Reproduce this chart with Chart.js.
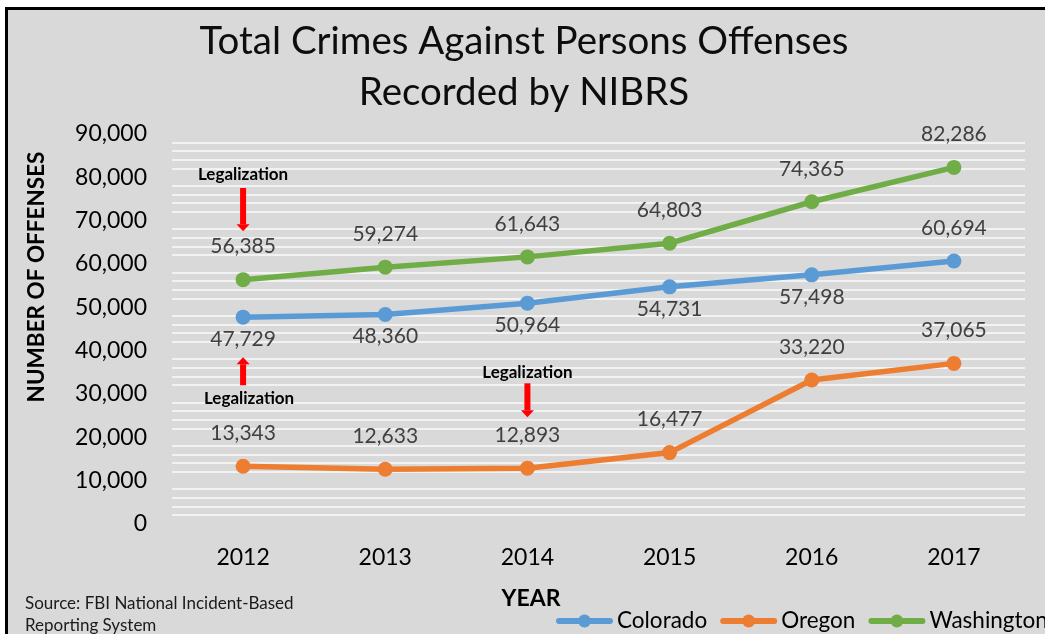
<!DOCTYPE html>
<html>
<head>
<meta charset="utf-8">
<script src="https://cdn.jsdelivr.net/npm/chart.js@4.4.1/dist/chart.umd.min.js"></script>
<style>
html,body{margin:0;padding:0;background:#fff;overflow:hidden;}
#wrap{width:1045px;height:634px;position:relative;}
</style>
</head>
<body>
<div id="wrap"><canvas id="c" width="1045" height="634"></canvas></div>
<script>
// ---- data ----
const years = ['2012','2013','2014','2015','2016','2017'];
const colorado = [47729, 48360, 50964, 54731, 57498, 60694];
const oregon = [13343, 12633, 12893, 16477, 33220, 37065];
const washington = [56385, 59274, 61643, 64803, 74365, 82286];
const seriesNames = ['Colorado', 'Oregon', 'Washington'];
const yTickValues = [0, 10000, 20000, 30000, 40000, 50000, 60000, 70000, 80000, 90000];
const titleLines = ['Total Crimes Against Persons Offenses', 'Recorded by NIBRS'];
const sourceLines = ['Source: FBI National Incident-Based', 'Reporting System'];
const annotationCats = ['2012', '2012', '2014'];
const annotationTextVals = [80660, 29010, 35010];
const annotationArrowFrom = [77540, 32010, 32470];
const annotationArrowTo = [67550, 38470, 24620];

const FONT = 'Lato, "Open Sans", sans-serif';
const colors = ['#5B9BD5', '#ED7D31', '#70AD47'];
const labelSide = [
  [1,1,1,1,1,-1],   // Colorado: below except last
  [-1,-1,-1,-1,-1,-1],
  [-1,-1,-1,-1,-1,-1]
];

const bgPlugin = {
  id: 'bg',
  beforeDraw(chart) {
    const ctx = chart.ctx;
    ctx.save();
    ctx.fillStyle = '#ffffff';
    ctx.fillRect(0, 0, chart.width, chart.height);
    ctx.fillStyle = '#D9D9D9';
    ctx.fillRect(8, 10, chart.width, chart.height);
    ctx.fillStyle = '#000';
    ctx.fillRect(5, 7, chart.width, 3);
    ctx.fillRect(5, 7, 3, chart.height);
    ctx.restore();
  }
};

const decoPlugin = {
  id: 'deco',
  afterDatasetsDraw(chart) {
    const ctx = chart.ctx;
    const xs = chart.scales.x, ys = chart.scales.y;
    ctx.save();
    // title
    ctx.fillStyle = '#0d0d0d';
    ctx.textAlign = 'center';
    ctx.textBaseline = 'middle';
    ctx.font = '38.5px ' + FONT;
    ctx.fillText(titleLines[0], 524, 42);
    ctx.fillText(titleLines[1], 524, 93);
    // axis titles
    ctx.font = 'bold 23px ' + FONT;
    ctx.fillStyle = '#000';
    ctx.fillText('YEAR', 531, 599);
    ctx.font = 'bold 22.5px ' + FONT;
    ctx.save();
    ctx.translate(37, 277);
    ctx.rotate(-Math.PI / 2);
    ctx.fillText('NUMBER OF OFFENSES', 0, 0);
    ctx.restore();
    // source
    ctx.textAlign = 'left';
    ctx.font = '17px ' + FONT;
    ctx.fillStyle = '#1a1a1a';
    ctx.fillText(sourceLines[0], 25, 604);
    ctx.fillText(sourceLines[1], 25, 626);
    // data labels
    ctx.textAlign = 'center';
    ctx.font = '21px ' + FONT;
    ctx.fillStyle = '#404040';
    chart.data.datasets.forEach((ds, di) => {
      const meta = chart.getDatasetMeta(di);
      meta.data.forEach((pt, i) => {
        const side = labelSide[di][i];
        const dy = side > 0 ? 22 : -33;
        ctx.fillText(ds.data[i].toLocaleString('en-US'), pt.x, pt.y + dy);
      });
    });
    // annotations
    for (let k = 0; k < annotationCats.length; k++) {
      const x = xs.getPixelForValue(years.indexOf(annotationCats[k]));
      const ty = ys.getPixelForValue(annotationTextVals[k]);
      ctx.font = 'bold 17px ' + FONT;
      ctx.fillStyle = '#000';
      ctx.fillText('Legalization', x + (k === 1 ? 6 : 0), ty);
      const y0 = ys.getPixelForValue(annotationArrowFrom[k]);
      const y1 = ys.getPixelForValue(annotationArrowTo[k]);
      const dir = y1 > y0 ? 1 : -1;
      const head = 7;
      ctx.fillStyle = '#FF0000';
      const yb = y1 - dir * head;
      ctx.fillRect(x - 3, Math.min(y0, yb), 6, Math.abs(yb - y0));
      ctx.beginPath();
      ctx.moveTo(x - 6.5, yb);
      ctx.lineTo(x + 6.5, yb);
      ctx.lineTo(x, y1);
      ctx.closePath();
      ctx.fill();
    }
    // legend
    let lx = 556;
    const ly = 621;
    ctx.font = '22.5px ' + FONT;
    ctx.textAlign = 'left';
    seriesNames.forEach((n, i) => {
      ctx.strokeStyle = colors[i];
      ctx.lineWidth = 6;
      ctx.lineCap = 'round';
      ctx.beginPath();
      ctx.moveTo(lx + 3, ly);
      ctx.lineTo(lx + 54, ly);
      ctx.stroke();
      ctx.fillStyle = colors[i];
      ctx.beginPath();
      ctx.arc(lx + 28.5, ly, 6.5, 0, Math.PI * 2);
      ctx.fill();
      ctx.fillStyle = '#000';
      ctx.fillText(n, lx + 61, ly);
      lx += 61 + ctx.measureText(n).width + 13;
    });
    ctx.restore();
  }
};

const datasets = [colorado, oregon, washington].map((d, i) => ({
  label: seriesNames[i],
  data: d,
  borderColor: colors[i],
  backgroundColor: colors[i],
  borderWidth: 5.5,
  pointRadius: 7.5,
  pointHoverRadius: 7.5,
  pointBorderWidth: 0,
  tension: 0
}));

new Chart(document.getElementById('c'), {
  type: 'line',
  data: { labels: years, datasets },
  plugins: [bgPlugin, decoPlugin],
  options: {
    responsive: false,
    animation: false,
    events: [],
    layout: { padding: { top: 134, right: 20, left: 0, bottom: 0 } },
    plugins: { legend: { display: false }, title: { display: false }, tooltip: { enabled: false } },
    scales: {
      x: {
        type: 'category',
        offset: true,
        grid: { display: false, drawTicks: false },
        border: { display: false },
        ticks: { color: '#000', font: { family: FONT, size: 23 }, padding: 20, maxRotation: 0 },
        afterFit(s) { s.height = 110; }
      },
      y: {
        min: 0, max: 90000,
        afterBuildTicks(s) {
          const t = [];
          for (let v = 0; v <= 90000; v += 2000) t.push({ value: v });
          s.ticks = t;
        },
        grid: {
          drawTicks: false,
          lineWidth: 2,
          color: (c) => (c.tick && yTickValues.includes(c.tick.value)) ? 'rgba(0,0,0,0)' : '#F2F2F2'
        },
        border: { display: false },
        ticks: {
          autoSkip: false,
          color: '#000',
          font: { family: FONT, size: 23 },
          padding: 25,
          callback: (v) => yTickValues.includes(v) ? v.toLocaleString('en-US') : ''
        },
        afterFit(s) { s.width = 172; }
      }
    }
  }
});
</script>
</body>
</html>
